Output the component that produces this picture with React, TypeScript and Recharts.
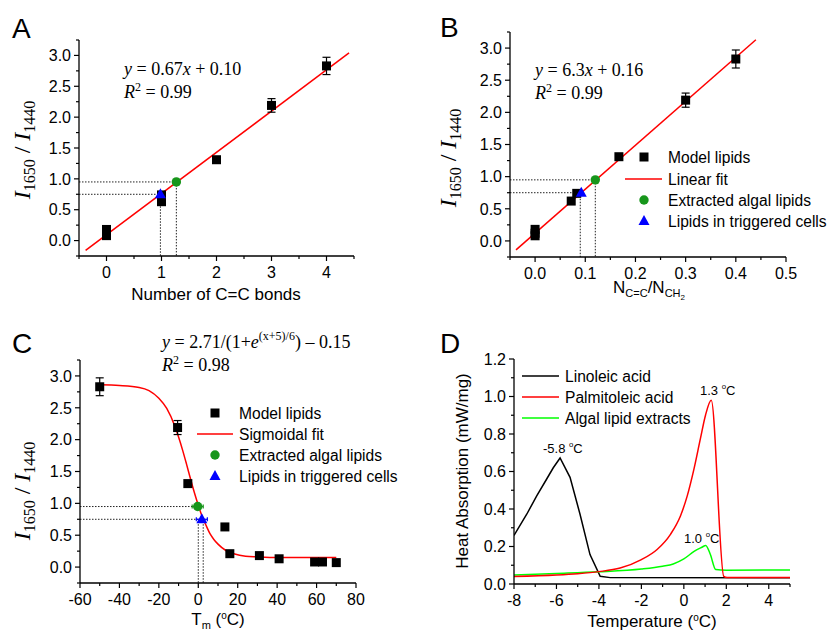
import React from 'react';
import {
  ComposedChart,
  LineChart,
  Line,
  Scatter,
  XAxis,
  YAxis,
  ErrorBar,
  ReferenceLine,
} from 'recharts';

const W = 840;
const H = 631;
const SANS = 'Arial, "Liberation Sans", sans-serif';
const SERIF = '"Times New Roman", "Liberation Serif", serif';

type Pt = { x: number; y: number; err?: number; xerr?: number };

// ---- A: ratio vs number of C=C bonds
const bondsModel: Pt[] = [
  { x: 0, y: 0.08, err: 0 },
  { x: 0, y: 0.12, err: 0 },
  { x: 0, y: 0.18, err: 0 },
  { x: 1, y: 0.74, err: 0 },
  { x: 1, y: 0.63, err: 0 },
  { x: 2, y: 1.31, err: 0 },
  { x: 3, y: 2.19, err: 0.11 },
  { x: 4, y: 2.83, err: 0.14 },
];
const bondsAlgal: Pt[] = [{ x: 1.27, y: 0.95 }];
const bondsCells: Pt[] = [{ x: 0.98, y: 0.75 }];
const bondsFit: Pt[] = [
  { x: -0.38, y: -0.16 },
  { x: 4.41, y: 3.04 },
];
const bondsGuides: Pt[][] = [
  [{ x: -0.5, y: 0.95 }, { x: 1.27, y: 0.95 }],
  [{ x: 1.27, y: 0.95 }, { x: 1.27, y: -0.25 }],
  [{ x: -0.5, y: 0.75 }, { x: 0.98, y: 0.75 }],
  [{ x: 0.98, y: 0.75 }, { x: 0.98, y: -0.25 }],
];
const bondsXMajor = [0, 1, 2, 3, 4];
const bondsXMinor = [-0.5, 0.5, 1.5, 2.5, 3.5, 4.5];

// ---- B: ratio vs N(C=C)/N(CH2)
const fracModel: Pt[] = [
  { x: 0, y: 0.08, err: 0 },
  { x: 0, y: 0.12, err: 0 },
  { x: 0, y: 0.18, err: 0 },
  { x: 0.072, y: 0.62, err: 0 },
  { x: 0.083, y: 0.74, err: 0 },
  { x: 0.167, y: 1.31, err: 0 },
  { x: 0.3, y: 2.19, err: 0.11 },
  { x: 0.4, y: 2.83, err: 0.14 },
];
const fracAlgal: Pt[] = [{ x: 0.12, y: 0.95 }];
const fracCells: Pt[] = [{ x: 0.092, y: 0.75 }];
const fracFit: Pt[] = [
  { x: -0.038, y: -0.14 },
  { x: 0.44, y: 3.13 },
];
const fracGuides: Pt[][] = [
  [{ x: -0.05, y: 0.95 }, { x: 0.12, y: 0.95 }],
  [{ x: 0.12, y: 0.95 }, { x: 0.12, y: -0.25 }],
  [{ x: -0.05, y: 0.75 }, { x: 0.09, y: 0.75 }],
  [{ x: 0.09, y: 0.75 }, { x: 0.09, y: -0.25 }],
];
const fracXMajor = [0, 0.1, 0.2, 0.3, 0.4, 0.5];
const fracXMinor = [-0.05, 0.05, 0.15, 0.25, 0.35, 0.45];

// ---- C: ratio vs melting temperature
const tmModel: Pt[] = [
  { x: -50, y: 2.83, err: 0.14 },
  { x: -10.5, y: 2.19, err: 0.11 },
  { x: -5.3, y: 1.31, err: 0 },
  { x: 13.5, y: 0.63, err: 0 },
  { x: 16, y: 0.21, err: 0 },
  { x: 31, y: 0.18, err: 0 },
  { x: 41, y: 0.13, err: 0 },
  { x: 59, y: 0.08, err: 0 },
  { x: 63, y: 0.08, err: 0 },
  { x: 70, y: 0.07, err: 0 },
];
const tmAlgal: Pt[] = [{ x: -0.3, y: 0.95, xerr: 2.8 }];
const tmCells: Pt[] = [{ x: 1.8, y: 0.75, xerr: 2.8 }];
const tmFit: Pt[] = [
  { x: -50, y: 2.86 }, { x: -40, y: 2.85 }, { x: -30, y: 2.82 }, { x: -25, y: 2.77 },
  { x: -20, y: 2.65 }, { x: -16, y: 2.49 }, { x: -12, y: 2.22 }, { x: -10, y: 2.04 },
  { x: -8, y: 1.84 }, { x: -6, y: 1.62 }, { x: -4, y: 1.39 }, { x: -2, y: 1.17 },
  { x: 0, y: 0.97 }, { x: 2, y: 0.79 }, { x: 4, y: 0.65 }, { x: 6, y: 0.52 },
  { x: 8, y: 0.43 }, { x: 10, y: 0.36 }, { x: 14, y: 0.26 }, { x: 18, y: 0.21 },
  { x: 24, y: 0.17 }, { x: 30, y: 0.16 }, { x: 40, y: 0.15 }, { x: 70, y: 0.15 },
];
const tmGuides: Pt[][] = [
  [{ x: -60, y: 0.95 }, { x: -0.3, y: 0.95 }],
  [{ x: -60, y: 0.75 }, { x: 1.8, y: 0.75 }],
  [{ x: 0, y: 0.72 }, { x: 0, y: -0.25 }],
  [{ x: 2.5, y: 0.72 }, { x: 2.5, y: -0.25 }],
];
const tmXMajor = [-60, -40, -20, 0, 20, 40, 60, 80];
const tmXMinor = [-50, -30, -10, 10, 30, 50, 70];

const ratioYMajor = [0, 0.5, 1, 1.5, 2, 2.5, 3];
const ratioYMinor = [-0.25, 0.25, 0.75, 1.25, 1.75, 2.25, 2.75, 3.25];

// ---- D: DSC heat flow
const linoleic: Pt[] = [
  { x: -8, y: 0.259 }, { x: -7.4, y: 0.372 }, { x: -6.93, y: 0.47 }, { x: -6.46, y: 0.56 },
  { x: -6.15, y: 0.62 }, { x: -5.83, y: 0.672 }, { x: -5.36, y: 0.569 }, { x: -4.89, y: 0.372 },
  { x: -4.42, y: 0.157 }, { x: -3.94, y: 0.041 }, { x: -3.47, y: 0.034 }, { x: 5, y: 0.033 },
];
const palmitoleic: Pt[] = [
  { x: -8, y: 0.04 }, { x: -6, y: 0.048 }, { x: -5, y: 0.055 }, { x: -4, y: 0.066 },
  { x: -3, y: 0.085 }, { x: -2, y: 0.13 }, { x: -1.26, y: 0.184 }, { x: -0.63, y: 0.265 },
  { x: -0.16, y: 0.363 }, { x: 0.16, y: 0.47 }, { x: 0.47, y: 0.61 }, { x: 0.78, y: 0.775 },
  { x: 1.02, y: 0.9 }, { x: 1.29, y: 0.98 }, { x: 1.88, y: 0.041 }, { x: 2.04, y: 0.035 },
  { x: 5, y: 0.035 },
];
const algalDsc: Pt[] = [
  { x: -8, y: 0.048 }, { x: -6, y: 0.056 }, { x: -4, y: 0.065 }, { x: -2, y: 0.08 },
  { x: -1, y: 0.095 }, { x: -0.5, y: 0.107 }, { x: 0, y: 0.134 }, { x: 0.5, y: 0.175 },
  { x: 0.85, y: 0.196 }, { x: 1.03, y: 0.206 }, { x: 1.25, y: 0.157 }, { x: 1.5, y: 0.077 },
  { x: 2, y: 0.073 }, { x: 5, y: 0.075 },
];
const dscXMajor = [-8, -6, -4, -2, 0, 2, 4];
const dscXMinor = [-7, -5, -3, -1, 1, 3, 5];
const dscYMajor = [0, 0.2, 0.4, 0.6, 0.8, 1.0, 1.2];
const dscYMinor = [0.1, 0.3, 0.5, 0.7, 0.9, 1.1];

const GREEN = '#17961b';
const BLUE = '#0000ff';
const RED = '#ff0000';
const TICK_FONT = 16;
const TITLE_FONT = 17;

type Box = { l: number; t: number; r: number; b: number };
const YW = 40;
const XH = 30;
const marginFor = (b: Box) => ({ left: b.l - YW, top: b.t, right: W - b.r, bottom: H - b.b - XH });

const xTick = (majors: number[], fmt: (v: number) => string) => (p: any) => {
  const v = p.payload.value;
  const major = majors.includes(v);
  return (
    <g>
      <line x1={p.x} x2={p.x} y1={p.y} y2={p.y + (major ? 5 : 3)} stroke="#000" strokeWidth={1.2} />
      {major && (
        <text x={p.x} y={p.y + 22} textAnchor="middle" fontFamily={SANS} fontSize={TICK_FONT} fill="#000">
          {fmt(v)}
        </text>
      )}
    </g>
  );
};

const yTick = (majors: number[], fmt: (v: number) => string) => (p: any) => {
  const v = p.payload.value;
  const major = majors.includes(v);
  return (
    <g>
      <line x1={p.x} x2={p.x - (major ? 5 : 3)} y1={p.y} y2={p.y} stroke="#000" strokeWidth={1.2} />
      {major && (
        <text x={p.x - 8} y={p.y} dy="0.36em" textAnchor="end" fontFamily={SANS} fontSize={TICK_FONT} fill="#000">
          {fmt(v)}
        </text>
      )}
    </g>
  );
};

const squareShape = (p: any) => <rect x={p.cx - 4.5} y={p.cy - 4.5} width={9} height={9} fill="#000" />;
const circleShape = (p: any) => <circle cx={p.cx} cy={p.cy} r={4.7} fill={GREEN} />;
const triangleShape = (p: any) => (
  <polygon points={`${p.cx},${p.cy - 6} ${p.cx + 5.5},${p.cy + 4} ${p.cx - 5.5},${p.cy + 4}`} fill={BLUE} />
);

interface RatioPanelProps {
  box: Box;
  xDomain: [number, number];
  xMajor: number[];
  xMinor: number[];
  xFmt: (v: number) => string;
  model: Pt[];
  algal: Pt[];
  cells: Pt[];
  fit: Pt[];
  guides: Pt[][];
  curved?: boolean;
  xErr?: boolean;
}

function RatioPanel({ box, xDomain, xMajor, xMinor, xFmt, model, algal, cells, fit, guides, curved, xErr }: RatioPanelProps) {
  return (
    <div style={{ position: 'absolute', left: 0, top: 0 }}>
      <ComposedChart width={W} height={H} margin={marginFor(box)}>
        <XAxis
          type="number"
          dataKey="x"
          domain={xDomain}
          ticks={[...xMajor, ...xMinor]}
          interval={0}
          allowDataOverflow
          height={XH}
          tickSize={0}
          tickMargin={0}
          tickLine={false}
          axisLine={{ stroke: '#000', strokeWidth: 1.3 }}
          tick={xTick(xMajor, xFmt)}
        />
        <YAxis
          type="number"
          dataKey="y"
          domain={[-0.25, 3.25]}
          ticks={[...ratioYMajor, ...ratioYMinor]}
          interval={0}
          allowDataOverflow
          width={YW}
          tickSize={0}
          tickMargin={0}
          tickLine={false}
          axisLine={{ stroke: '#000', strokeWidth: 1.3 }}
          tick={yTick(ratioYMajor, (v) => v.toFixed(1))}
        />
        {guides.map((seg, i) => (
          <ReferenceLine
            key={i}
            segment={seg}
            stroke="#222"
            strokeWidth={1}
            strokeDasharray="1.5 1.5"
            ifOverflow="visible"
          />
        ))}
        <Line
          data={fit}
          dataKey="y"
          type={curved ? 'monotone' : 'linear'}
          stroke={RED}
          strokeWidth={1.5}
          dot={false}
          activeDot={false}
          isAnimationActive={false}
        />
        <Scatter data={model} shape={squareShape} isAnimationActive={false}>
          <ErrorBar dataKey="err" direction="y" width={4} stroke="#000" strokeWidth={1.2} />
        </Scatter>
        <Scatter data={algal} shape={circleShape} isAnimationActive={false}>
          {xErr && <ErrorBar dataKey="xerr" direction="x" width={2} stroke={GREEN} strokeWidth={1.2} />}
        </Scatter>
        <Scatter data={cells} shape={triangleShape} isAnimationActive={false}>
          {xErr && <ErrorBar dataKey="xerr" direction="x" width={2} stroke={BLUE} strokeWidth={1.2} />}
        </Scatter>
      </ComposedChart>
    </div>
  );
}

function DscPanel() {
  const box: Box = { l: 514, t: 359, r: 790, b: 584 };
  return (
    <div style={{ position: 'absolute', left: 0, top: 0 }}>
      <LineChart width={W} height={H} margin={marginFor(box)}>
        <XAxis
          type="number"
          dataKey="x"
          domain={[-8, 5]}
          ticks={[...dscXMajor, ...dscXMinor]}
          interval={0}
          allowDataOverflow
          height={XH}
          tickSize={0}
          tickMargin={0}
          tickLine={false}
          axisLine={{ stroke: '#000', strokeWidth: 1.3 }}
          tick={xTick(dscXMajor, (v) => String(v))}
        />
        <YAxis
          type="number"
          dataKey="y"
          domain={[0, 1.2]}
          ticks={[...dscYMajor, ...dscYMinor]}
          interval={0}
          allowDataOverflow
          width={YW}
          tickSize={0}
          tickMargin={0}
          tickLine={false}
          axisLine={{ stroke: '#000', strokeWidth: 1.3 }}
          tick={yTick(dscYMajor, (v) => v.toFixed(1))}
        />
        <Line data={linoleic} dataKey="y" type="linear" stroke="#000" strokeWidth={1.5} dot={false} activeDot={false} isAnimationActive={false} />
        <Line data={algalDsc} dataKey="y" type="monotone" stroke="#00ff00" strokeWidth={1.5} dot={false} activeDot={false} isAnimationActive={false} />
        <Line data={palmitoleic} dataKey="y" type="monotone" stroke={RED} strokeWidth={1.5} dot={false} activeDot={false} isAnimationActive={false} />
      </LineChart>
    </div>
  );
}

function RatioLabel({ x, y }: { x: number; y: number }) {
  return (
    <text transform={`translate(${x},${y}) rotate(-90)`} textAnchor="middle" fontFamily={SERIF} fontSize={24} fill="#000">
      <tspan fontStyle="italic">I</tspan>
      <tspan fontSize={16} dy={5}>1650</tspan>
      <tspan dy={-5}> / </tspan>
      <tspan fontStyle="italic">I</tspan>
      <tspan fontSize={16} dy={5}>1440</tspan>
    </text>
  );
}

function Degree() {
  return (
    <>
      <tspan dy={-6} fontSize="0.6em">o</tspan>
      <tspan dy={6}>C</tspan>
    </>
  );
}

function Equation({ x, y, children, r2 }: { x: number; y: number; children: React.ReactNode; r2: string }) {
  return (
    <g fontFamily={SERIF} fontSize={18} fill="#000">
      <text x={x} y={y}>{children}</text>
      <text x={x} y={y + 23}>
        <tspan fontStyle="italic">R</tspan>
        <tspan dy={-7} fontSize={12}>2</tspan>
        <tspan dy={7}>{` = ${r2}`}</tspan>
      </text>
    </g>
  );
}

function MarkerLegend({ mx, tx, rows, fitLabel, lx1, lx2 }: { mx: number; tx: number; rows: number[]; fitLabel: string; lx1: number; lx2: number }) {
  const labels = ['Model lipids', fitLabel, 'Extracted algal lipids', 'Lipids in triggered cells'];
  return (
    <g fontFamily={SANS} fontSize={15.6} fill="#000">
      {squareShape({ cx: mx, cy: rows[0] })}
      <line x1={lx1} x2={lx2} y1={rows[1]} y2={rows[1]} stroke={RED} strokeWidth={1.5} />
      {circleShape({ cx: mx, cy: rows[2] })}
      {triangleShape({ cx: mx, cy: rows[3] })}
      {labels.map((t, i) => (
        <text key={t} x={tx} y={rows[i] + 6}>{t}</text>
      ))}
    </g>
  );
}

export default function App() {
  return (
    <div style={{ position: 'absolute', left: 0, top: 0, width: W, height: H, background: '#fff' }}>
      <RatioPanel
        box={{ l: 79, t: 40, r: 354, b: 256 }}
        xDomain={[-0.5, 4.5]}
        xMajor={bondsXMajor}
        xMinor={bondsXMinor}
        xFmt={(v) => String(v)}
        model={bondsModel}
        algal={bondsAlgal}
        cells={bondsCells}
        fit={bondsFit}
        guides={bondsGuides}
      />
      <RatioPanel
        box={{ l: 510, t: 32, r: 786, b: 257 }}
        xDomain={[-0.05, 0.5]}
        xMajor={fracXMajor}
        xMinor={fracXMinor}
        xFmt={(v) => v.toFixed(1)}
        model={fracModel}
        algal={fracAlgal}
        cells={fracCells}
        fit={fracFit}
        guides={fracGuides}
      />
      <RatioPanel
        box={{ l: 80, t: 360, r: 356, b: 583 }}
        xDomain={[-60, 80]}
        xMajor={tmXMajor}
        xMinor={tmXMinor}
        xFmt={(v) => String(v)}
        model={tmModel}
        algal={tmAlgal}
        cells={tmCells}
        fit={tmFit}
        guides={tmGuides}
        curved
        xErr
      />
      <DscPanel />

      <svg width={W} height={H} style={{ position: 'absolute', left: 0, top: 0, pointerEvents: 'none' }}>
        <g fontFamily={SANS} fontSize={28} fill="#000">
          <text x={12} y={38}>A</text>
          <text x={440} y={37}>B</text>
          <text x={12} y={353}>C</text>
          <text x={440} y={353}>D</text>
        </g>

        <RatioLabel x={30} y={150} />
        <RatioLabel x={456} y={158} />
        <RatioLabel x={30} y={491} />

        <Equation x={124} y={75} r2="0.99">
          <tspan fontStyle="italic">y</tspan> = 0.67<tspan fontStyle="italic">x</tspan> + 0.10
        </Equation>
        <Equation x={535} y={76} r2="0.99">
          <tspan fontStyle="italic">y</tspan> = 6.3<tspan fontStyle="italic">x</tspan> + 0.16
        </Equation>
        <Equation x={162} y={348} r2="0.98">
          <tspan fontStyle="italic">y</tspan> = 2.71/(1+<tspan fontStyle="italic">e</tspan>
          <tspan dy={-8} fontSize={12}>(x+5)/6</tspan>
          <tspan dy={8}>) – 0.15</tspan>
        </Equation>

        <MarkerLegend mx={644} tx={668} rows={[157, 179, 200, 221]} fitLabel="Linear fit" lx1={625} lx2={662} />
        <MarkerLegend mx={215} tx={239} rows={[413, 434, 455, 476]} fitLabel="Sigmoidal fit" lx1={197} lx2={233} />

        <g fontFamily={SANS} fontSize={TITLE_FONT} fill="#000">
          <text x={216} y={300} textAnchor="middle">Number of C=C bonds</text>
          <text x={649} y={293} textAnchor="middle">
            N<tspan dy={4} fontSize={11}>C=C</tspan>
            <tspan dy={-4}>/N</tspan>
            <tspan dy={4} fontSize={11}>CH</tspan>
            <tspan dy={3} fontSize={8}>2</tspan>
          </text>
          <text x={218} y={625} textAnchor="middle">
            T<tspan dy={4} fontSize={11}>m</tspan>
            <tspan dy={-4}> (</tspan>
            <tspan dy={-6} fontSize={10}>o</tspan>
            <tspan dy={6}>C)</tspan>
          </text>
          <text x={652} y={627} textAnchor="middle">
            Temperature (<tspan dy={-6} fontSize={10}>o</tspan>
            <tspan dy={6}>C)</tspan>
          </text>
          <text transform="translate(468,471) rotate(-90)" textAnchor="middle">Heat Absorption (mW/mg)</text>
        </g>

        <g fontFamily={SANS} fontSize={15.6} fill="#000">
          <line x1={522} x2={559} y1={376} y2={376} stroke="#000" strokeWidth={1.5} />
          <line x1={522} x2={559} y1={397} y2={397} stroke={RED} strokeWidth={1.5} />
          <line x1={522} x2={559} y1={418} y2={418} stroke="#00ff00" strokeWidth={1.5} />
          <text x={565} y={382}>Linoleic acid</text>
          <text x={565} y={403}>Palmitoleic acid</text>
          <text x={565} y={424}>Algal lipid extracts</text>
        </g>

        <g fontFamily={SANS} fontSize={13} fill="#000">
          <text x={543} y={453}>-5.8 <Degree /></text>
          <text x={700} y={395}>1.3 <Degree /></text>
          <text x={684} y={543}>1.0 <Degree /></text>
        </g>
      </svg>
    </div>
  );
}
